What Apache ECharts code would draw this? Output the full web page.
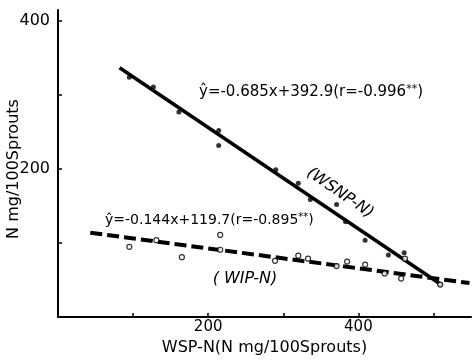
<!DOCTYPE html>
<html><head><meta charset="utf-8">
<script src="https://cdn.jsdelivr.net/npm/echarts@6/dist/echarts.min.js"></script>
<style>html,body{margin:0;padding:0;background:#fff}#c{width:472px;height:361px}</style>
</head><body><div id="c"></div>
<script>
// WSNP-N (filled dots)
const wsnpX = [95, 127, 161, 214, 214, 290, 320, 336, 371, 383, 409, 440, 461, 509];
const wsnpY = [324, 311, 277, 252, 232, 199, 181, 159, 152, 129, 104, 84, 87, 44];
// WIP-N (open circles)
const wipX = [95, 131, 165, 216, 216, 289, 320, 333, 371, 385, 409, 435, 457, 462, 509];
const wipY = [95, 104, 81, 111, 91, 76, 83, 79, 69, 75, 71, 59, 52, 79, 44];
// regression lines (endpoints)
const fitWsnpX = [82, 510];
const fitWsnpY = [337, 44];
const fitWipX = [43, 548];
const fitWipY = [114, 46];
// ticks
const xTicks = [100, 200, 300, 400, 500];
const xLabels = [200, 400];
const yTicks = [100, 200, 300, 400];
const yLabels = [200, 400];
const eq1 = 'ŷ=-0.685x+392.9(r=-0.996';
const eq2 = 'ŷ=-0.144x+119.7(r=-0.895';
const xName = 'WSP-N(N mg/100Sprouts)';
const yName = 'N mg/100Sprouts';

const zip = (a, b) => a.map((v, i) => [v, b[i]]);
const F = 'DejaVu Sans';
const chart = echarts.init(document.getElementById('c'), null, {renderer: 'canvas'});
chart.setOption({
  animation: false,
  backgroundColor: '#fff',
  grid: {left: 58, top: 10, width: 413, height: 311, containLabel: false},
  xAxis: {
    type: 'value', min: 0, max: 550, interval: 100,
    axisLine: {show: true, lineStyle: {color: '#000', width: 2}},
    axisTick: {show: true, inside: true, length: 4, customValues: xTicks, lineStyle: {color: '#000', width: 1.5}},
    axisLabel: {customValues: xLabels, color: '#000', fontFamily: F, fontSize: 15, margin: 3},
    splitLine: {show: false},
    name: xName, nameLocation: 'middle', nameGap: 14,
    nameTextStyle: {color: '#000', fontFamily: F, fontSize: 16, verticalAlign: 'top'}
  },
  yAxis: {
    type: 'value', min: 0, max: 415, interval: 100,
    axisLine: {show: true, lineStyle: {color: '#000', width: 2}},
    axisTick: {show: true, inside: true, length: 4, customValues: yTicks, lineStyle: {color: '#000', width: 1.5}},
    axisLabel: {customValues: yLabels, color: '#000', fontFamily: F, fontSize: 16, margin: 8},
    splitLine: {show: false}
  },
  graphic: [
    {type: 'text', left: 199, top: 84, style: {text: eq1 + '{s|**})', font: '15px "DejaVu Sans"', fill: '#000',
      rich: {s: {fontSize: 11, fontFamily: F, padding: [0, 0, 6, 0]}}}},
    {type: 'text', left: 105, top: 212, style: {text: eq2 + '{s|**})', font: '14px "DejaVu Sans"', fill: '#000',
      rich: {s: {fontSize: 10, fontFamily: F, padding: [0, 0, 6, 0]}}}},
    {type: 'text', x: 340, y: 193, rotation: -0.6, style: {text: '(WSNP-N)', font: 'italic 16px "DejaVu Sans"', fill: '#000', align: 'center', verticalAlign: 'middle'}},
    {type: 'text', x: 245, y: 279, style: {text: '( WIP-N)', font: 'italic 16px "DejaVu Sans"', fill: '#000', align: 'center', verticalAlign: 'middle'}},
    {type: 'text', x: 14, y: 169, rotation: Math.PI / 2, style: {text: yName, font: '16px "DejaVu Sans"', fill: '#000', align: 'center', verticalAlign: 'middle'}}
  ],
  series: [
    {type: 'line', data: zip(fitWsnpX, fitWsnpY), symbol: 'none', z: 1,
      lineStyle: {color: '#000', width: 3.5}},
    {type: 'line', data: zip(fitWipX, fitWipY), symbol: 'none', z: 1,
      lineStyle: {color: '#000', width: 4, type: [12, 5]}},
    {type: 'scatter', data: zip(wsnpX, wsnpY), symbol: 'circle', symbolSize: 5, z: 3,
      itemStyle: {color: '#000'}},
    {type: 'scatter', data: zip(wipX, wipY), symbol: 'circle', symbolSize: 5, z: 3,
      itemStyle: {color: '#fff', borderColor: '#000', borderWidth: 1.2}}
  ]
});
</script>
</body></html>
